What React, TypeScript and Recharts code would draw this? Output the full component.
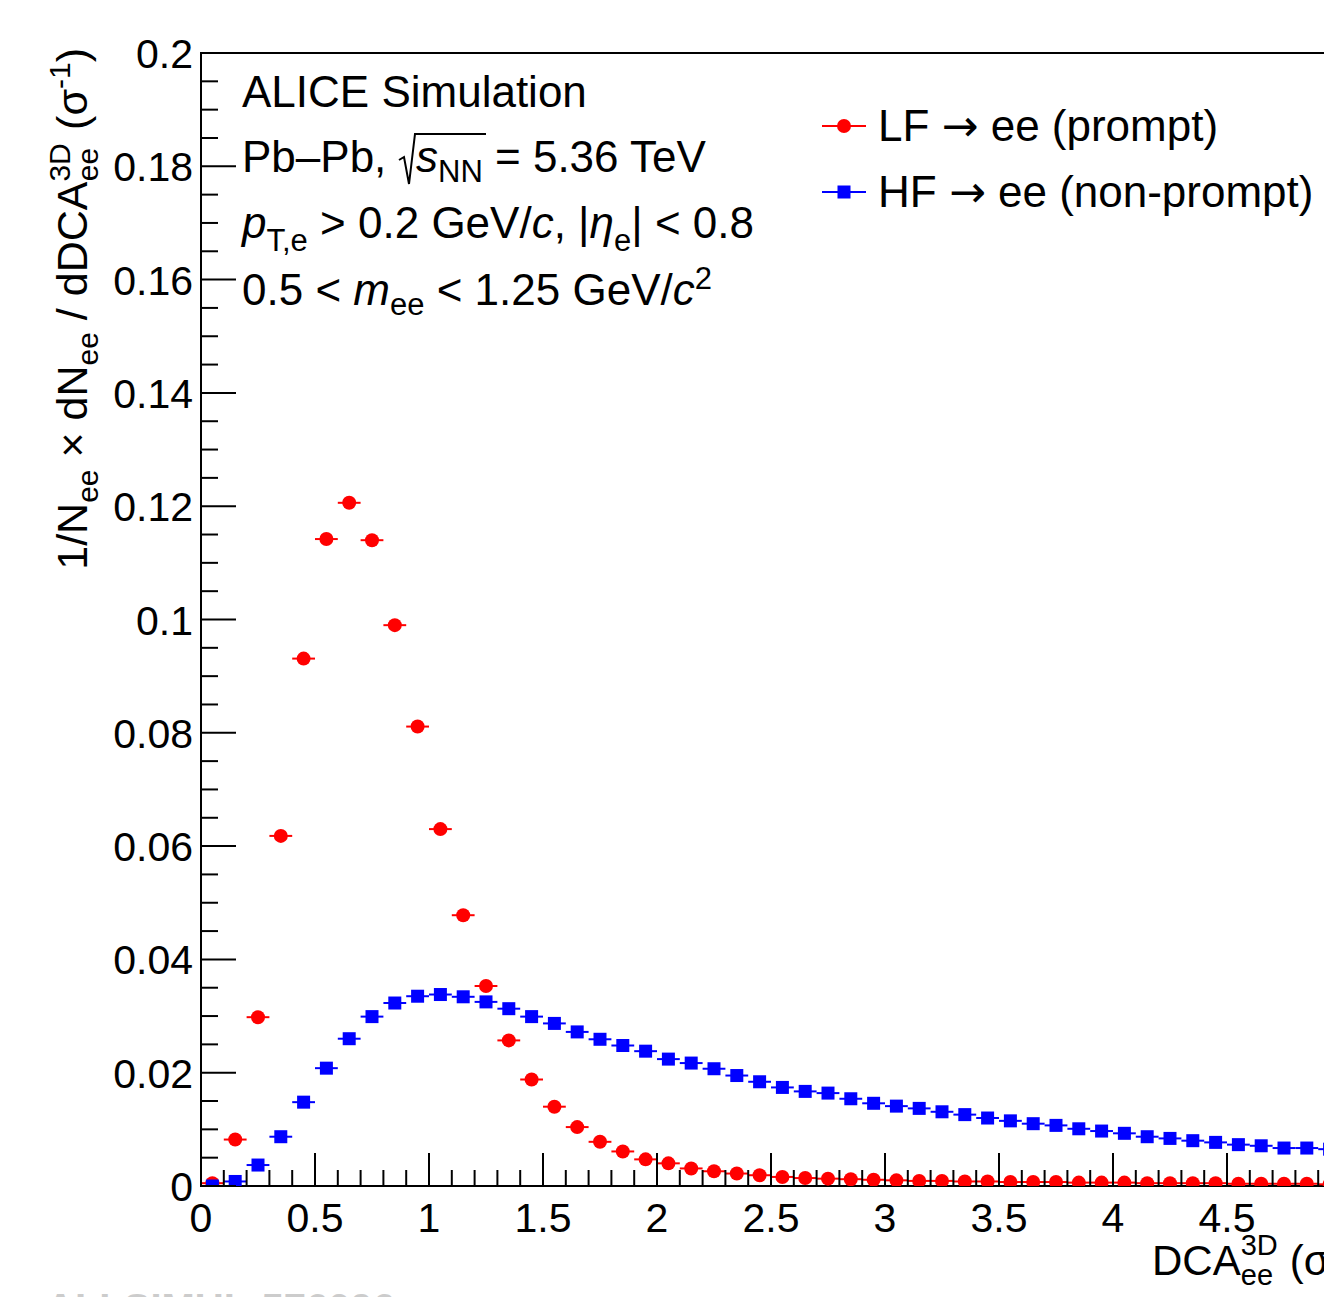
import React from "react";
import {
  ComposedChart, Scatter, XAxis, YAxis, ErrorBar, ReferenceArea,
} from "recharts";

// bin centres of DCA_ee^3D (sigma), bin width 0.1
const binCenters = [
  0.05, 0.15, 0.25, 0.35, 0.45, 0.55, 0.65, 0.75, 0.85, 0.95,
  1.05, 1.15, 1.25, 1.35, 1.45, 1.55, 1.65, 1.75, 1.85, 1.95,
  2.05, 2.15, 2.25, 2.35, 2.45, 2.55, 2.65, 2.75, 2.85, 2.95,
  3.05, 3.15, 3.25, 3.35, 3.45, 3.55, 3.65, 3.75, 3.85, 3.95,
  4.05, 4.15, 4.25, 4.35, 4.45, 4.55, 4.65, 4.75, 4.85, 4.95,
];

// LF -> ee (prompt)
const lfValues = [
  0.0005, 0.0082, 0.0298, 0.0618, 0.0931, 0.1142, 0.1206, 0.1140, 0.0990, 0.0811,
  0.0630, 0.0478, 0.0353, 0.0257, 0.0188, 0.0140, 0.0104, 0.0078, 0.0061, 0.0047,
  0.0040, 0.0031, 0.0026, 0.0022, 0.0019, 0.0016, 0.0014, 0.0013, 0.0012, 0.0011,
  0.0010, 0.0009, 0.0009, 0.0008, 0.0008, 0.0007, 0.0007, 0.0007, 0.0006, 0.0006,
  0.0006, 0.0005, 0.0005, 0.0005, 0.0005, 0.0004, 0.0004, 0.0004, 0.0004, 0.0003,
];

// HF -> ee (non-prompt)
const hfValues = [
  0.0000, 0.0008, 0.0037, 0.0087, 0.0148, 0.0208, 0.0260, 0.0299, 0.0323, 0.0335,
  0.0338, 0.0334, 0.0325, 0.0313, 0.0299, 0.0287, 0.0272, 0.0259, 0.0248, 0.0238,
  0.0224, 0.0217, 0.0207, 0.0195, 0.0184, 0.0174, 0.0167, 0.0164, 0.0154, 0.0146,
  0.0141, 0.0137, 0.0131, 0.0126, 0.0120, 0.0115, 0.0110, 0.0107, 0.0101, 0.0097,
  0.0093, 0.0087, 0.0084, 0.0080, 0.0077, 0.0073, 0.0071, 0.0067, 0.0067, 0.0065,
];

const halfBin = 0.05;

const xMajorTicks = [0, 0.5, 1, 1.5, 2, 2.5, 3, 3.5, 4, 4.5, 5];
const yMajorTicks = [0, 0.02, 0.04, 0.06, 0.08, 0.1, 0.12, 0.14, 0.16, 0.18, 0.2];

// minor ticks: 5 per x major division, 4 per y major division
const xTicks = Array.from({ length: 51 }, (_, i) => i / 10);
const yTicks = Array.from({ length: 41 }, (_, i) => Math.round(i * 5) / 1000);

const data = binCenters.map((x, i) => ({
  x, lf: lfValues[i], hf: hfValues[i], ex: halfBin,
}));

const FONT = "'Liberation Sans', Arial, Helvetica, sans-serif";
const ARROW_FONT = "'DejaVu Sans', sans-serif";
const PLOT_LEFT = 201;
const PLOT_BOTTOM = 1186;
const RED = "#ff0000";
const BLUE = "#0000ff";

const isMajor = (v: number, list: number[]) => list.some((m) => Math.abs(m - v) < 1e-9);

function XTick(props: any) {
  const { x, payload } = props;
  const v = payload.value;
  const major = isMajor(v, xMajorTicks);
  return (
    <g>
      <line x1={x} x2={x} y1={PLOT_BOTTOM} y2={PLOT_BOTTOM - (major ? 33 : 16)} stroke="#000" strokeWidth={2} />
      {major && (
        <text x={x} y={1232} textAnchor="middle" fontSize={41} fontFamily={FONT} fill="#000">
          {String(v)}
        </text>
      )}
    </g>
  );
}

function YTick(props: any) {
  const { y, payload } = props;
  const v = payload.value;
  const major = isMajor(v, yMajorTicks);
  return (
    <g>
      <line x1={PLOT_LEFT} x2={PLOT_LEFT + (major ? 35 : 17)} y1={y} y2={y} stroke="#000" strokeWidth={2} />
      {major && (
        <text x={193} y={y + 15} textAnchor="end" fontSize={41} fontFamily={FONT} fill="#000">
          {String(v)}
        </text>
      )}
    </g>
  );
}

const RedDot = (p: any) => <circle cx={p.cx} cy={p.cy} r={7} fill={RED} />;
const BlueSquare = (p: any) => <rect x={p.cx - 6.5} y={p.cy - 6.5} width={13} height={13} fill={BLUE} />;

function Overlay() {
  const t = { fontFamily: FONT, fontSize: 44, fill: "#000" } as const;
  const sub = 31;
  return (
    <svg width={1324} height={1297} style={{ position: "absolute", left: 0, top: 0, pointerEvents: "none" }}>
      {/* y axis title */}
      <text transform="translate(87,48) rotate(-90)" textAnchor="end" fontFamily={FONT} fontSize={43} fill="#000">
        1/N<tspan dy={11} fontSize={30}>ee</tspan>
        <tspan dy={-11}> × dN</tspan><tspan dy={11} fontSize={30}>ee</tspan>
        <tspan dy={-11}> / dDCA</tspan>
        <tspan dy={-17} fontSize={30}>3D</tspan>
        <tspan dx={-38} dy={28} fontSize={30}>ee</tspan>
        <tspan dx={6} dy={-11}> (σ</tspan>
        <tspan dy={-17} fontSize={30}>-1</tspan>
        <tspan dy={17}>)</tspan>
      </text>

      {/* x axis title */}
      <text x={1152} y={1275} fontFamily={FONT} fontSize={42} fill="#000">
        DCA<tspan dy={-20} fontSize={29}>3D</tspan>
        <tspan dx={-37} dy={30} fontSize={29}>ee</tspan>
        <tspan dx={5} dy={-10}> (σ)</tspan>
      </text>

      {/* annotations */}
      <text x={242} y={107} {...t}>ALICE Simulation</text>
      <text x={242} y={172} {...t}>
        Pb–Pb,
        <tspan x={416} fontStyle="italic">s</tspan>
        <tspan dy={10} fontSize={sub}>NN</tspan>
        <tspan dy={-10}> = 5.36 TeV</tspan>
      </text>
      <path d="M399,160 L404,157 L409,184 L415,134 L486,134" fill="none" stroke="#000" strokeWidth={2} />
      <text x={242} y={238} {...t}>
        <tspan fontStyle="italic">p</tspan>
        <tspan dy={13} fontSize={sub}>T,e</tspan>
        <tspan dy={-13}> &gt; 0.2 GeV/</tspan>
        <tspan fontStyle="italic">c</tspan>
        <tspan>, |</tspan>
        <tspan fontStyle="italic">η</tspan>
        <tspan dy={13} fontSize={sub}>e</tspan>
        <tspan dy={-13}>| &lt; 0.8</tspan>
      </text>
      <text x={242} y={305} {...t}>
        0.5 &lt; <tspan fontStyle="italic">m</tspan>
        <tspan dy={10} fontSize={sub}>ee</tspan>
        <tspan dy={-10}> &lt; 1.25 GeV/</tspan>
        <tspan fontStyle="italic">c</tspan>
        <tspan dy={-16} fontSize={sub}>2</tspan>
      </text>

      {/* legend */}
      <line x1={822} x2={866} y1={126} y2={126} stroke={RED} strokeWidth={2} />
      <circle cx={844} cy={126} r={7} fill={RED} />
      <text x={878} y={141} {...t}>
        LF <tspan fontFamily={ARROW_FONT}>→</tspan> ee (prompt)
      </text>
      <line x1={822} x2={866} y1={192} y2={192} stroke={BLUE} strokeWidth={2} />
      <rect x={837.5} y={185.5} width={13} height={13} fill={BLUE} />
      <text x={878} y={207} {...t}>
        HF <tspan fontFamily={ARROW_FONT}>→</tspan> ee (non-prompt)
      </text>

      {/* watermark, mostly below the page edge */}
      <text x={46} y={1322} fontFamily={FONT} fontSize={40} fontWeight="bold" fill="#cccccc">ALI-SIMUL-576096</text>
    </svg>
  );
}

export default function App() {
  return (
    <div style={{ position: "absolute", left: 0, top: 0, width: 1324, height: 1297, overflow: "hidden", background: "#fff" }}>
      <ComposedChart
        width={1400}
        height={1297}
        data={data}
        margin={{ top: 53, right: 59, bottom: 41, left: 0 }}
      >
        <XAxis
          type="number"
          dataKey="x"
          domain={[0, 5]}
          ticks={xTicks}
          interval={0}
          tick={<XTick />}
          tickLine={false}
          axisLine={false}
          height={70}
          allowDataOverflow
        />
        <YAxis
          type="number"
          domain={[0, 0.2]}
          ticks={yTicks}
          interval={0}
          tick={<YTick />}
          tickLine={false}
          axisLine={false}
          width={201}
          allowDataOverflow
        />
        <ReferenceArea x1={0} x2={5} y1={0} y2={0.2} fill="none" fillOpacity={0} stroke="#000" strokeWidth={2} />
        <Scatter dataKey="lf" shape={RedDot} isAnimationActive={false}>
          <ErrorBar dataKey="ex" direction="x" width={0} stroke={RED} strokeWidth={2} />
        </Scatter>
        <Scatter dataKey="hf" shape={BlueSquare} isAnimationActive={false}>
          <ErrorBar dataKey="ex" direction="x" width={0} stroke={BLUE} strokeWidth={2} />
        </Scatter>
      </ComposedChart>
      <Overlay />
    </div>
  );
}
